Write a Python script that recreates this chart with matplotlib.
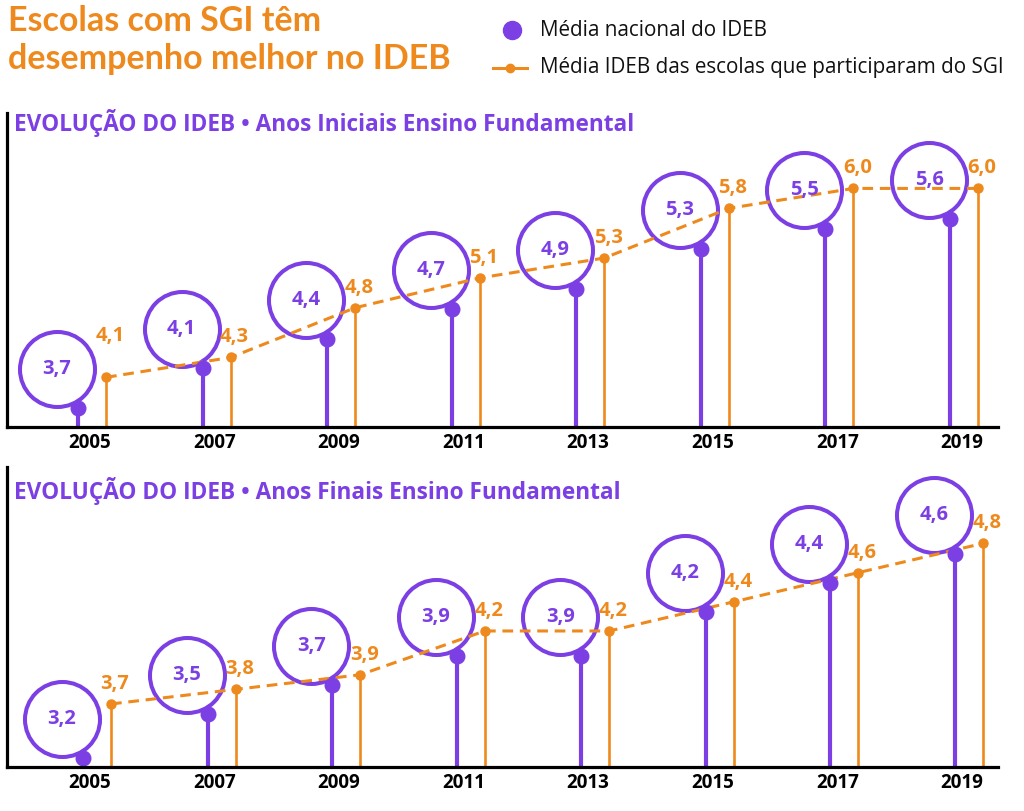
import matplotlib
matplotlib.use("Agg")
import matplotlib.pyplot as plt
from matplotlib.transforms import ScaledTranslation
from matplotlib.lines import Line2D

# ---------------- data ----------------
years = [2005, 2007, 2009, 2011, 2013, 2015, 2017, 2019]
iniciais_nacional = [3.7, 4.1, 4.4, 4.7, 4.9, 5.3, 5.5, 5.6]
iniciais_sgi = [4.1, 4.3, 4.8, 5.1, 5.3, 5.8, 6.0, 6.0]
finais_nacional = [3.2, 3.5, 3.7, 3.9, 3.9, 4.2, 4.4, 4.6]
finais_sgi = [3.7, 3.8, 3.9, 4.2, 4.2, 4.4, 4.6, 4.8]

title_text = "Escolas com SGI têm\ndesempenho melhor no IDEB"
legend_labels = ["Média nacional do IDEB", "Média IDEB das escolas que participaram do SGI"]
panel_titles = ["EVOLUÇÃO DO IDEB • Anos Iniciais Ensino Fundamental",
                "EVOLUÇÃO DO IDEB • Anos Finais Ensino Fundamental"]

PURPLE = "#7B3FE4"
ORANGE = "#EE8A1D"
FONT = "Open Sans"
TFONT = "Lato"

W, H = 1024, 811
fig = plt.figure(figsize=(W / 100, H / 100), dpi=100)
plt.rcParams['font.family'] = [FONT, 'DejaVu Sans']


def fmt(v):
    return f"{v:.1f}".replace(".", ",")


def px_off(dx, dy):
    return ScaledTranslation(dx / 100, dy / 100, fig.dpi_scale_trans)


def panel(rect_px, nacional, sgi, ylim, xoffs, orange_dy, first_label_extra):
    x0, ytop, x1, ybot = rect_px
    ax = fig.add_axes([x0 / W, (H - ybot) / H, (x1 - x0) / W, (ybot - ytop) / H])
    ax.set_xlim(2003.67, 2019.58)
    ax.set_ylim(*ylim)
    for s in ["top", "right"]:
        ax.spines[s].set_visible(False)
    for s in ["left", "bottom"]:
        ax.spines[s].set_linewidth(2.3)
        ax.spines[s].set_color("black")
        ax.spines[s].set_zorder(6)
    ax.set_yticks([])
    ax.set_xticks(years)
    ax.set_xticklabels([str(y) for y in years], fontsize=13.5, fontweight="bold")
    ax.tick_params(axis="x", length=0, pad=4)

    po, oo = xoffs
    xp = [y + po for y in years]
    xo = [y + oo for y in years]
    base = ylim[0]
    otr = ax.transData + px_off(0, orange_dy)
    # orange stems + dashed line
    ax.vlines(xo, base - 1, sgi, color=ORANGE, lw=1.9, zorder=2, transform=otr)
    ax.plot(xo, sgi, color=ORANGE, lw=2.2, ls=(0, (3.5, 2.2)), zorder=2, transform=otr)
    ax.plot(xo, sgi, "o", color=ORANGE, ms=6.5, zorder=3, transform=otr)
    for i, (x, v) in enumerate(zip(xo, sgi)):
        extra = first_label_extra if i == 0 else 0
        ax.text(x, v, fmt(v), color=ORANGE, fontsize=14.5, fontweight="bold",
                ha="center", va="center",
                transform=ax.transData + px_off(4, orange_dy + 20 + extra), zorder=5)
    # purple stems + dots
    ax.vlines(xp, base, nacional, color=PURPLE, lw=3.0, zorder=3)
    ax.plot(xp, nacional, "o", color=PURPLE, ms=10.5, zorder=4, clip_on=False)
    # circles with values
    ctr = ax.transData + px_off(-21, 39)
    ax.plot(xp, nacional, "o", ms=54, mfc="none", mec=PURPLE, mew=2.9,
            transform=ctr, zorder=1, clip_on=False)
    for x, v in zip(xp, nacional):
        ax.text(x, v, fmt(v), color=PURPLE, fontsize=14.5, fontweight="bold",
                ha="center", va="center", transform=ctr, zorder=5)
    return ax


panel((7, 113, 998, 427), iniciais_nacional, iniciais_sgi, (3.51, 6.668), (-0.19, 0.26), -9, 21)
panel((7, 467, 998, 767), finais_nacional, finais_sgi, (3.138, 5.193), (-0.11, 0.34), -19, 0)

# panel titles
fig.text(14 / W, 1 - 123 / H, panel_titles[0], color=PURPLE, fontsize=16.3,
         fontweight="bold", ha="left", va="center")
fig.text(14 / W, 1 - 491 / H, panel_titles[1], color=PURPLE, fontsize=16.3,
         fontweight="bold", ha="left", va="center")

# main title
fig.text(8 / W, 1 - 40 / H, title_text, color=ORANGE, fontsize=24.5,
         fontweight="bold", ha="left", va="center", linespacing=1.2,
         family=[TFONT, 'DejaVu Sans'])

# legend
fig.add_artist(Line2D([512 / W], [1 - 30 / H], marker="o", ms=13, color=PURPLE,
                      ls="none", transform=fig.transFigure))
fig.add_artist(Line2D([493 / W, 527 / W], [1 - 68 / H, 1 - 68 / H], color=ORANGE, lw=2.2,
                      transform=fig.transFigure))
fig.add_artist(Line2D([510 / W], [1 - 68 / H], marker="o", ms=6, color=ORANGE,
                      ls="none", transform=fig.transFigure))
fig.text(540 / W, 1 - 30 / H, legend_labels[0], fontsize=14.9, color="#111111",
         ha="left", va="center")
fig.text(540 / W, 1 - 68 / H, legend_labels[1], fontsize=14.9, color="#111111",
         ha="left", va="center")

fig.savefig("out.png", dpi=100, facecolor="white")
